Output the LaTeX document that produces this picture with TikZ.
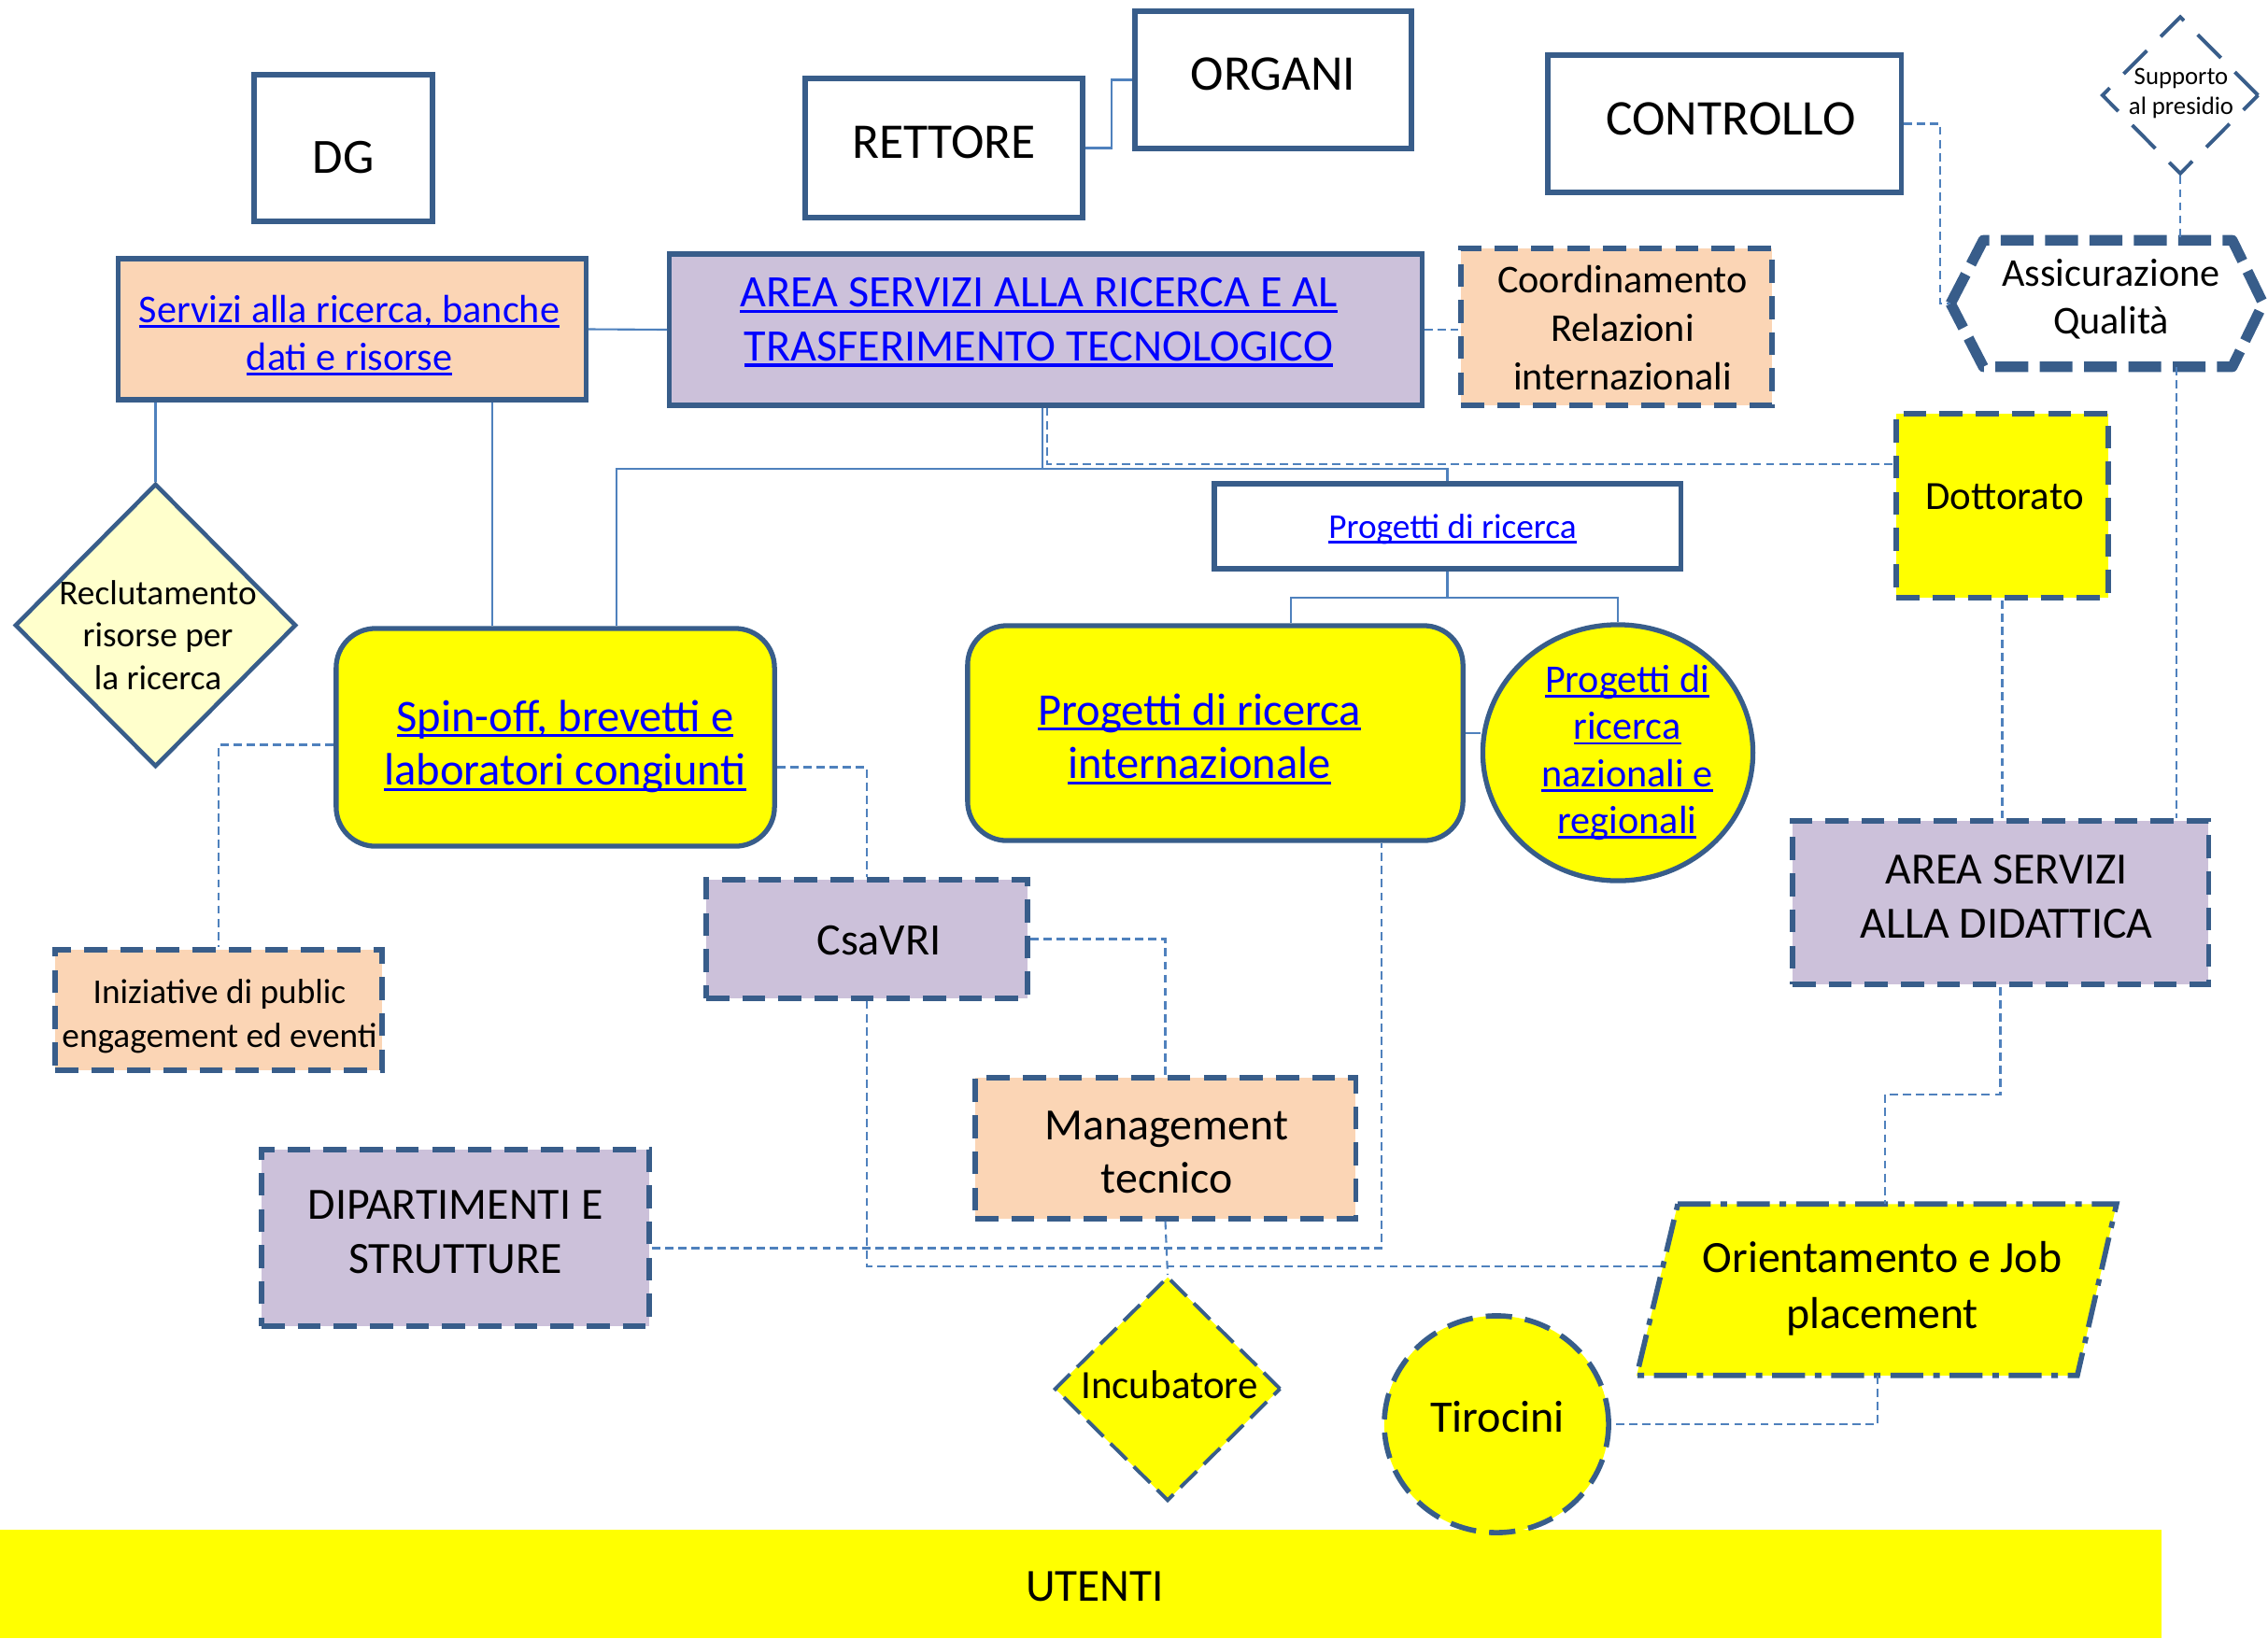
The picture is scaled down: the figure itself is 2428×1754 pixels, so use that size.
\documentclass[tikz,border=0pt]{standalone}
\usepackage{fontspec}
\setmainfont{Carlito}
\usetikzlibrary{shapes.geometric,calc}
\definecolor{bord}{HTML}{385D8A}
\definecolor{lnk}{HTML}{4F81BD}
\definecolor{peach}{HTML}{FBD5B5}
\definecolor{lav}{HTML}{CCC1DA}
\definecolor{yel}{HTML}{FFFF00}
\definecolor{lyel}{HTML}{FFFFCC}
\definecolor{hl}{HTML}{0000FF}
\newcommand{\lk}[1]{\textcolor{hl}{\setbox0\hbox{#1}\rlap{\rule[-0.13em]{\wd0}{0.065em}}\box0}}
\tikzset{
  box/.style={draw=bord, line width=1.5pt, rectangle, inner sep=0pt, align=center},
  dbox/.style={box, dash pattern=on 7pt off 4pt},
  txt/.style={align=center, inner sep=0pt},
  conn/.style={draw=lnk, line width=0.6pt},
  dconn/.style={conn, dash pattern=on 2.5pt off 1.5pt},
}
\begin{document}
\begin{tikzpicture}[x=0.01cm,y=-0.01cm]
\useasboundingbox (0,0) rectangle (2428,1754);

% utenti band
\node[rectangle, fill=yel, inner sep=0pt, minimum width=23.13cm, minimum height=1.16cm] (utb) at (1156.5,1696) {};
\node[txt, font=\fontsize{14}{16}\selectfont] (ut) at (1172,1699) {UTENTI};

% top row
\node[box, minimum width=1.91cm, minimum height=1.57cm] (dg) at (367.5,158.5) {};
\node[txt, font=\fontsize{15}{18}\selectfont] (dgT) at (367.5,169) {DG};
\node[box, minimum width=2.97cm, minimum height=1.49cm] (ret) at (1010.5,158.5) {};
\node[txt, font=\fontsize{15.2}{18}\selectfont] (retT) at (1010.5,152) {RETTORE};
\node[box, minimum width=2.96cm, minimum height=1.47cm] (org) at (1363,85.5) {};
\node[txt, font=\fontsize{15.2}{18}\selectfont] (orgT) at (1363,79) {ORGANI};
\node[box, minimum width=3.78cm, minimum height=1.47cm] (ctl) at (1846,132.5) {};
\node[txt, font=\fontsize{15.2}{18}\selectfont] (ctlT) at (1853,127) {CONTROLLO};

% supporto diamond
\node[shape=diamond, draw=bord, line width=1.1pt, dash pattern=on 10pt off 6pt, inner sep=0pt, minimum width=1.68cm, minimum height=1.69cm] (sup) at (2334,102) {};
\node[txt, font=\fontsize{7.6}{9.2}\selectfont] (supT) at (2335,100) {Supporto\\al presidio};

% assicurazione hexagon
\node[txt, minimum width=3.33cm, minimum height=1.34cm] (aq) at (2255.5,325) {};
\draw[draw=bord, line width=3.2pt, dash pattern=on 10pt off 3.5pt, line join=round]
  (aq.west) -- ($(aq.north west)+(35,0)$) -- ($(aq.north east)+(-33,0)$) -- (aq.east)
  -- ($(aq.south east)+(-33,0)$) -- ($(aq.south west)+(35,0)$) -- cycle;
\node[txt, font=\fontsize{12}{14.4}\selectfont] (aqT) at (2260,320) {Assicurazione\\Qualità};

% second row
\node[box, fill=peach, minimum width=5cm, minimum height=1.51cm] (srv) at (377,352.5) {};
\node[txt, font=\fontsize{12}{14.5}\selectfont] (srvT) at (374,359) {\lk{Servizi alla ricerca, banche}\\\lk{dati e risorse}};
\node[box, fill=lav, minimum width=8.05cm, minimum height=1.62cm] (asr) at (1119.5,353) {};
\node[txt, font=\fontsize{13.7}{16.4}\selectfont] (asrT) at (1112,345) {\lk{AREA SERVIZI ALLA RICERCA E AL}\\\lk{TRASFERIMENTO TECNOLOGICO}};
\node[dbox, fill=peach, minimum width=3.33cm, minimum height=1.68cm] (coord) at (1730.5,350) {};
\node[txt, font=\fontsize{12}{14.8}\selectfont] (coordT) at (1737,351) {Coordinamento\\Relazioni\\internazionali};

% progetti
\node[box, fill=white, minimum width=4.99cm, minimum height=0.91cm] (prj) at (1549.5,563.5) {};
\node[txt, font=\fontsize{10.6}{12.5}\selectfont] (prjT) at (1555,567) {\lk{Progetti di ricerca}};
\node[dbox, fill=yel, minimum width=2.27cm, minimum height=1.97cm] (dott) at (2143.5,541.5) {};
\node[txt, font=\fontsize{12.2}{14}\selectfont] (dottT) at (2146,532) {Dottorato};

% reclutamento diamond
\node[shape=diamond, draw=bord, line width=1.3pt, fill=lyel, inner sep=0pt, minimum width=3.01cm, minimum height=3.03cm] (recl) at (166.5,669.5) {};
\node[txt, font=\fontsize{10.6}{13}\selectfont] (reclT) at (169,680) {Reclutamento\\risorse per\\la ricerca};

\node[box, fill=yel, rounded corners=0.42cm, minimum width=4.69cm, minimum height=2.33cm] (spin) at (594.5,789.5) {};
\node[txt, font=\fontsize{13.8}{16.3}\selectfont] (spinT) at (605,799) {\lk{Spin-off, brevetti e}\\\lk{laboratori congiunti}};
\node[box, fill=yel, rounded corners=0.42cm, minimum width=5.30cm, minimum height=2.30cm] (pint) at (1301,785) {};
\node[txt, font=\fontsize{13.8}{16.3}\selectfont] (pintT) at (1284,791) {\lk{Progetti di ricerca}\\\lk{internazionale}};
\node[shape=ellipse, draw=bord, line width=1.5pt, fill=yel, inner sep=0pt, minimum width=2.89cm, minimum height=2.74cm] (pnr) at (1732,806) {};
\node[txt, font=\fontsize{12}{14.3}\selectfont] (pnrT) at (1742,806) {\lk{Progetti di}\\\lk{ricerca}\\\lk{nazionali e}\\\lk{regionali}};

\node[dbox, fill=lav, minimum width=4.45cm, minimum height=1.75cm] (asd) at (2141.5,966.5) {};
\node[txt, font=\fontsize{13.6}{16.3}\selectfont] (asdT) at (2148,960) {AREA SERVIZI\\ALLA DIDATTICA};

% lower area
\node[dbox, fill=peach, minimum width=3.50cm, minimum height=1.29cm] (ini) at (234,1081.5) {};
\node[txt, font=\fontsize{10.6}{13.4}\selectfont] (iniT) at (235,1088) {Iniziative di public\\engagement ed eventi};
\node[dbox, fill=lav, minimum width=3.44cm, minimum height=1.27cm] (csa) at (928,1005.5) {};
\node[txt, font=\fontsize{13.7}{15}\selectfont] (csaT) at (941,1007) {CsaVRI};
\node[dbox, fill=peach, minimum width=4.07cm, minimum height=1.51cm] (mgmt) at (1247.5,1229.5) {};
\node[txt, font=\fontsize{13.6}{16.3}\selectfont] (mgmtT) at (1249,1234) {Management\\tecnico};
\node[dbox, fill=lav, minimum width=4.15cm, minimum height=1.89cm] (dip) at (487.5,1325.5) {};
\node[txt, font=\fontsize{13.6}{16.5}\selectfont] (dipT) at (487.5,1319) {DIPARTIMENTI E\\STRUTTURE};

\node[shape=diamond, draw=bord, line width=1.1pt, dash pattern=on 7pt off 3pt, fill=yel, inner sep=0pt, minimum width=2.42cm, minimum height=2.40cm] (inc) at (1250,1487) {};
\node[txt, font=\fontsize{12.2}{14}\selectfont] (incT) at (1252,1483) {Incubatore};

\node[shape=ellipse, draw=bord, line width=1.6pt, dash pattern=on 8pt off 4pt, fill=yel, inner sep=0pt, minimum width=2.40cm, minimum height=2.32cm] (tir) at (1602,1525) {};
\node[txt, font=\fontsize{13.7}{15}\selectfont] (tirT) at (1603,1517) {Tirocini};

% orientamento parallelogram
\node[txt, minimum width=5.12cm, minimum height=1.82cm] (ojp) at (2009,1381) {};
\fill[yel] ($(ojp.north west)+(44,0)$) -- (ojp.north east) -- ($(ojp.south east)+(-42,0)$) -- (ojp.south west) -- cycle;
\draw[draw=bord, line width=1.6pt, dash pattern=on 10pt off 3pt on 2pt off 3pt]
  ($(ojp.north west)+(44,0)$) -- (ojp.north east) -- ($(ojp.south east)+(-42,0)$) -- (ojp.south west) -- cycle;
\node[txt, font=\fontsize{13.6}{17}\selectfont] (ojpT) at (2015,1380) {Orientamento e Job\\placement};

% connectors
\draw[conn] (ret.east) -- ++(28,0) |- (org.west);
\draw[dconn] (ctl.east) -- ++(39,0) |- (aq.west);
\draw[dconn] (sup.south) -- (sup.south |- aq.north);
\draw[dconn] ($(sup.south |- aq.south)+(-4,0)$) -- ($(sup.south |- asd.north)+(-4,0)$);
\draw[conn] (srv.east) -- (asr.west);
\draw[dconn] (asr.east) -- (asr.east -| coord.west);
\draw[conn] (recl.north |- srv.south) -- (recl.north);
\coordinate (xa) at (527,0);
\draw[conn] (xa |- srv.south) -- (xa |- spin.north);
\coordinate (jA) at (1116,502);
\coordinate (xs) at (660,0);
\draw[conn] (jA |- asr.south) -- (jA) -| (xs |- spin.north);
\draw[conn] (jA) -| (prj.north);
\coordinate (jB) at (1121,497);
\draw[dconn] (jB |- asr.south) -- (jB) -- (jB -| dott.west);
\coordinate (jC) at (1549.5,640);
\coordinate (xi) at (1382,0);
\draw[conn] (prj.south) -- (jC) -| (xi |- pint.north);
\draw[conn] (jC) -| (pnr.north);
\draw[conn] (pint.east) -- (pint.east -| pnr.west);
\draw[dconn] (dott.south) -- (dott.south |- asd.north);
\draw[dconn] ($(spin.west)+(0,8)$) -| (ini.north);
\draw[dconn] ($(spin.east)+(0,32)$) -| (csa.north);
\draw[dconn] (csa.east) -| (mgmt.north);
\coordinate (ojpL) at (1781,1356);
\draw[dconn] (csa.south) |- (ojpL);
\coordinate (xd) at (1479,0);
\draw[dconn] ($(dip.east)+(0,11)$) -| (xd |- pint.south);
\draw[dconn] (mgmt.south) -- (inc.north);
\coordinate (jD) at (2018,1172);
\draw[dconn] (asd.south) |- (jD) -- (jD |- ojp.north);
\coordinate (xo) at (2010,0);
\draw[dconn] (xo |- ojp.south) |- (tir.east);
\end{tikzpicture}
\end{document}
